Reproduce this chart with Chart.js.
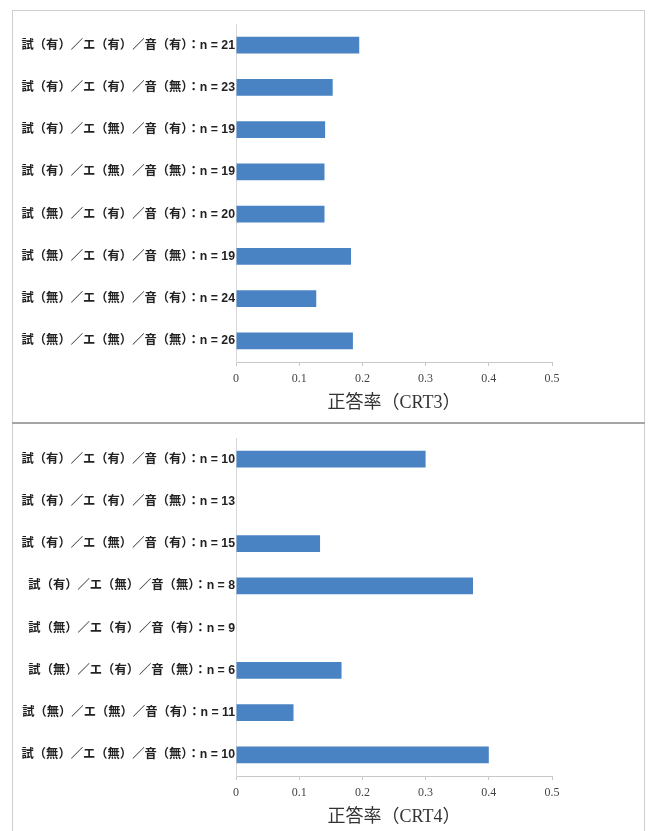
<!DOCTYPE html>
<html>
<head>
<meta charset="utf-8">
<script src="https://cdn.jsdelivr.net/npm/chart.js@4/dist/chart.umd.min.js"></script>
<style>
  html, body { margin: 0; padding: 0; background: #fff; width: 655px; height: 831px; overflow: hidden; }
  .cv { position: absolute; left: 12px; width: 632px; height: 412px; }
  #frame1 { position: absolute; left: 12px; top: 10px; width: 631px; height: 412px; border: 1px solid #cfcfcf; border-bottom: none; }
  #sep { position: absolute; left: 12px; top: 422px; width: 633px; height: 2px; background: #a5a5a5; }
  #frame2 { position: absolute; left: 12px; top: 424px; width: 631px; height: 420px; border-left: 1px solid #cfcfcf; border-right: 1px solid #cfcfcf; }
</style>
</head>
<body>
<div id="frame1"></div>
<div id="sep"></div>
<div id="frame2"></div>
<canvas id="c1" class="cv" style="top:10px" width="632" height="412"></canvas>
<canvas id="c2" class="cv" style="top:424px" width="632" height="412"></canvas>
<script>
// ---- data ----
const labelsCRT3 = [
  "試（有）／エ（有）／音（有）：n = 21",
  "試（有）／エ（有）／音（無）：n = 23",
  "試（有）／エ（無）／音（有）：n = 19",
  "試（有）／エ（無）／音（無）：n = 19",
  "試（無）／エ（有）／音（有）：n = 20",
  "試（無）／エ（有）／音（無）：n = 19",
  "試（無）／エ（無）／音（有）：n = 24",
  "試（無）／エ（無）／音（無）：n = 26"
];
const valuesCRT3 = [0.195, 0.153, 0.141, 0.140, 0.140, 0.182, 0.127, 0.185];

const labelsCRT4 = [
  "試（有）／エ（有）／音（有）：n = 10",
  "試（有）／エ（有）／音（無）：n = 13",
  "試（有）／エ（無）／音（有）：n = 15",
  "試（有）／エ（無）／音（無）：n = 8",
  "試（無）／エ（有）／音（有）：n = 9",
  "試（無）／エ（有）／音（無）：n = 6",
  "試（無）／エ（無）／音（有）：n = 11",
  "試（無）／エ（無）／音（無）：n = 10"
];
const valuesCRT4 = [0.30, 0, 0.133, 0.375, 0, 0.167, 0.091, 0.40];

const axisTicks = [0, 0.1, 0.2, 0.3, 0.4, 0.5];
const titleCRT3 = "正答率（CRT3）";
const titleCRT4 = "正答率（CRT4）";

// ---- chart builder ----
function makeChart(id, labels, values, title) {
  return new Chart(document.getElementById(id), {
    type: 'bar',
    data: {
      labels: labels,
      datasets: [{
        data: values,
        backgroundColor: '#4a83c3',
        borderWidth: 0,
        categoryPercentage: 1.0,
        barPercentage: 0.4
      }]
    },
    options: {
      indexAxis: 'y',
      responsive: false,
      animation: false,
      devicePixelRatio: 1,
      layout: { padding: { top: 14, right: 92, bottom: 0, left: 0 } },
      plugins: { legend: { display: false }, tooltip: { enabled: false } },
      scales: {
        x: {
          min: axisTicks[0],
          max: axisTicks[axisTicks.length - 1],
          afterBuildTicks: (s) => { s.ticks = axisTicks.map(v => ({ value: v })); },
          grid: { display: true, drawOnChartArea: false, drawTicks: true, tickLength: 4, color: '#c8c8c8' },
          border: { display: true, color: '#c8c8c8' },
          ticks: {
            padding: 6,
            color: '#444',
            font: { family: "'Liberation Serif', 'DejaVu Serif', serif", size: 12 }
          },
          title: {
            display: true,
            text: title,
            color: '#333',
            font: { family: "'Liberation Serif', 'Noto Sans CJK JP', serif", size: 18 },
            padding: { top: 4, bottom: 8 }
          },
          afterFit: (s) => { s.height = 60; }
        },
        y: {
          grid: { display: false, drawTicks: false },
          border: { display: true, color: '#d8d8d8' },
          ticks: {
            padding: 1,
            color: '#222',
            font: { family: "'Liberation Sans', 'Noto Sans CJK JP', sans-serif", size: 12.3, weight: 'bold' }
          },
          afterFit: (s) => { s.width = 224; }
        }
      }
    }
  });
}

makeChart('c1', labelsCRT3, valuesCRT3, titleCRT3);
makeChart('c2', labelsCRT4, valuesCRT4, titleCRT4);
</script>
</body>
</html>
